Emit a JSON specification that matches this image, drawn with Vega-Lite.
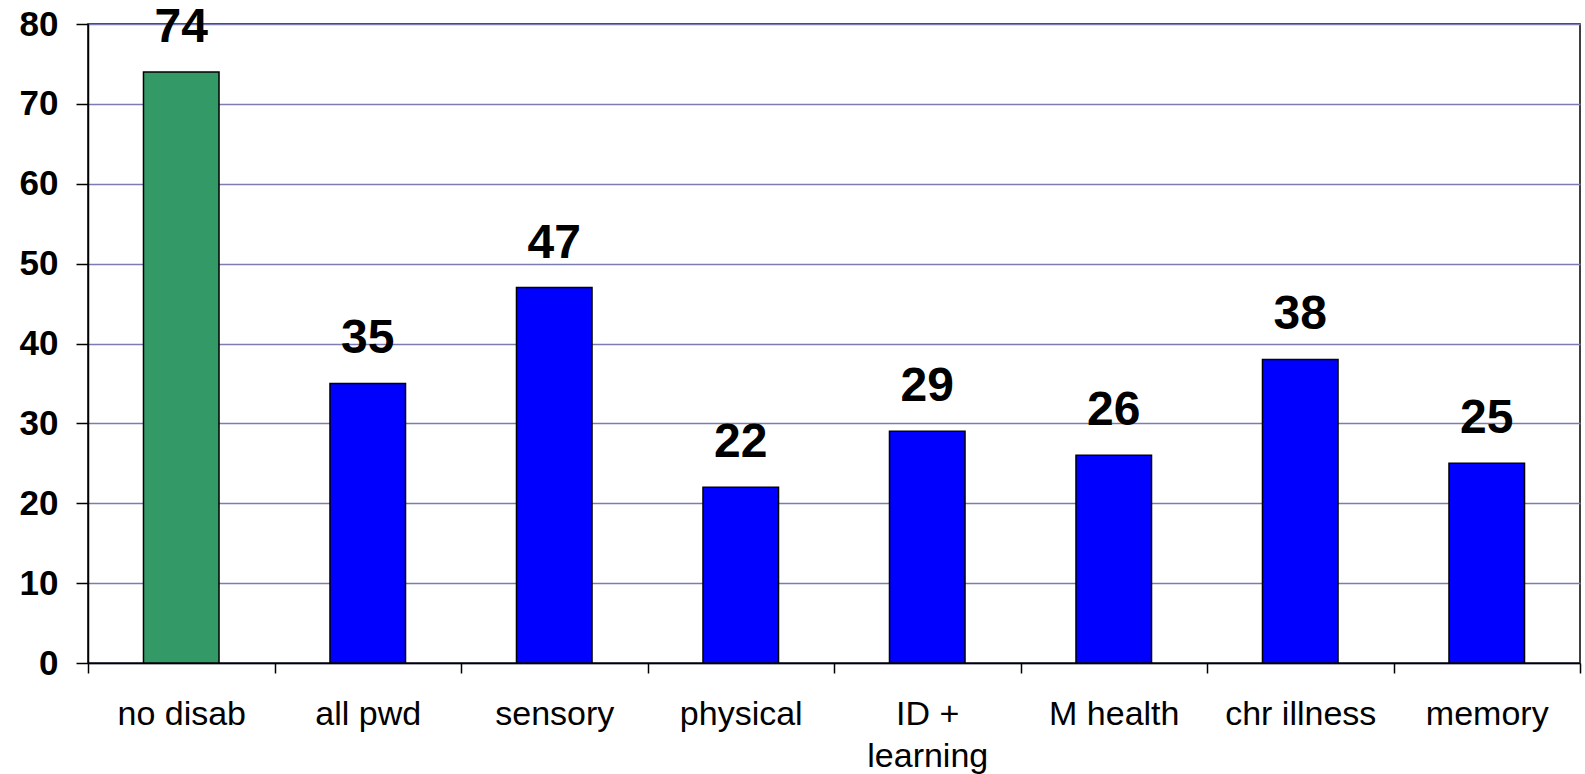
{
  "$schema": "https://vega.github.io/schema/vega-lite/v6.json",
  "autosize": "none",
  "width": 1492,
  "height": 639,
  "padding": {"left": 88, "top": 24, "right": 5, "bottom": 111},
  "background": "white",
  "config": {
    "font": "Liberation Sans",
    "view": {"stroke": "#000000", "strokeWidth": 1.5},
    "axis": {"domainColor": "#000000", "domainWidth": 1.5, "tickColor": "#000000", "tickWidth": 1.5, "labelColor": "#000000", "titleColor": "#000000"}
  },
  "data": {
    "values": [
      {"group": "no disab", "value": 74, "kind": "reference"},
      {"group": "all pwd", "value": 35, "kind": "disabled"},
      {"group": "sensory", "value": 47, "kind": "disabled"},
      {"group": "physical", "value": 22, "kind": "disabled"},
      {"group": "ID + learning", "value": 29, "kind": "disabled"},
      {"group": "M health", "value": 26, "kind": "disabled"},
      {"group": "chr illness", "value": 38, "kind": "disabled"},
      {"group": "memory", "value": 25, "kind": "disabled"}
    ]
  },
  "encoding": {
    "x": {
      "field": "group",
      "type": "nominal",
      "sort": null,
      "scale": {"paddingInner": 0, "paddingOuter": 0},
      "axis": {
        "title": null,
        "labelAngle": 0,
        "labelFont": "Liberation Sans",
        "labelFontSize": 34,
        "labelFontWeight": "normal",
        "labelBaseline": "alphabetic",
        "labelPadding": 51,
        "labelLineHeight": 42,
        "labelExpr": "datum.value == 'ID + learning' ? ['ID +', 'learning'] : datum.value",
        "tickBand": "extent",
        "tickSize": 10,
        "grid": false
      }
    },
    "y": {
      "field": "value",
      "type": "quantitative",
      "scale": {"domain": [0, 80], "nice": false, "zero": true},
      "axis": {
        "title": null,
        "values": [0, 10, 20, 30, 40, 50, 60, 70, 80],
        "labelFont": "Liberation Sans",
        "labelFontSize": 35,
        "labelFontWeight": "bold",
        "labelPadding": 18,
        "labelFlush": false,
        "labelOverlap": false,
        "tickSize": 12,
        "grid": true,
        "gridColor": "#7C7CB4",
        "gridWidth": 1.5,
        "gridOpacity": 1
      }
    }
  },
  "layer": [
    {
      "mark": {"type": "bar", "width": {"band": 0.405}, "stroke": "#000000", "strokeWidth": 1.5},
      "encoding": {
        "color": {
          "field": "kind",
          "type": "nominal",
          "scale": {"domain": ["reference", "disabled"], "range": ["#339966", "#0000FF"]},
          "legend": null
        }
      }
    },
    {
      "mark": {
        "type": "text",
        "font": "Liberation Sans",
        "fontSize": 48,
        "fontWeight": "bold",
        "baseline": "alphabetic",
        "align": "center",
        "dy": -30,
        "color": "#000000"
      },
      "encoding": {
        "text": {"field": "value", "type": "quantitative"}
      }
    }
  ]
}
